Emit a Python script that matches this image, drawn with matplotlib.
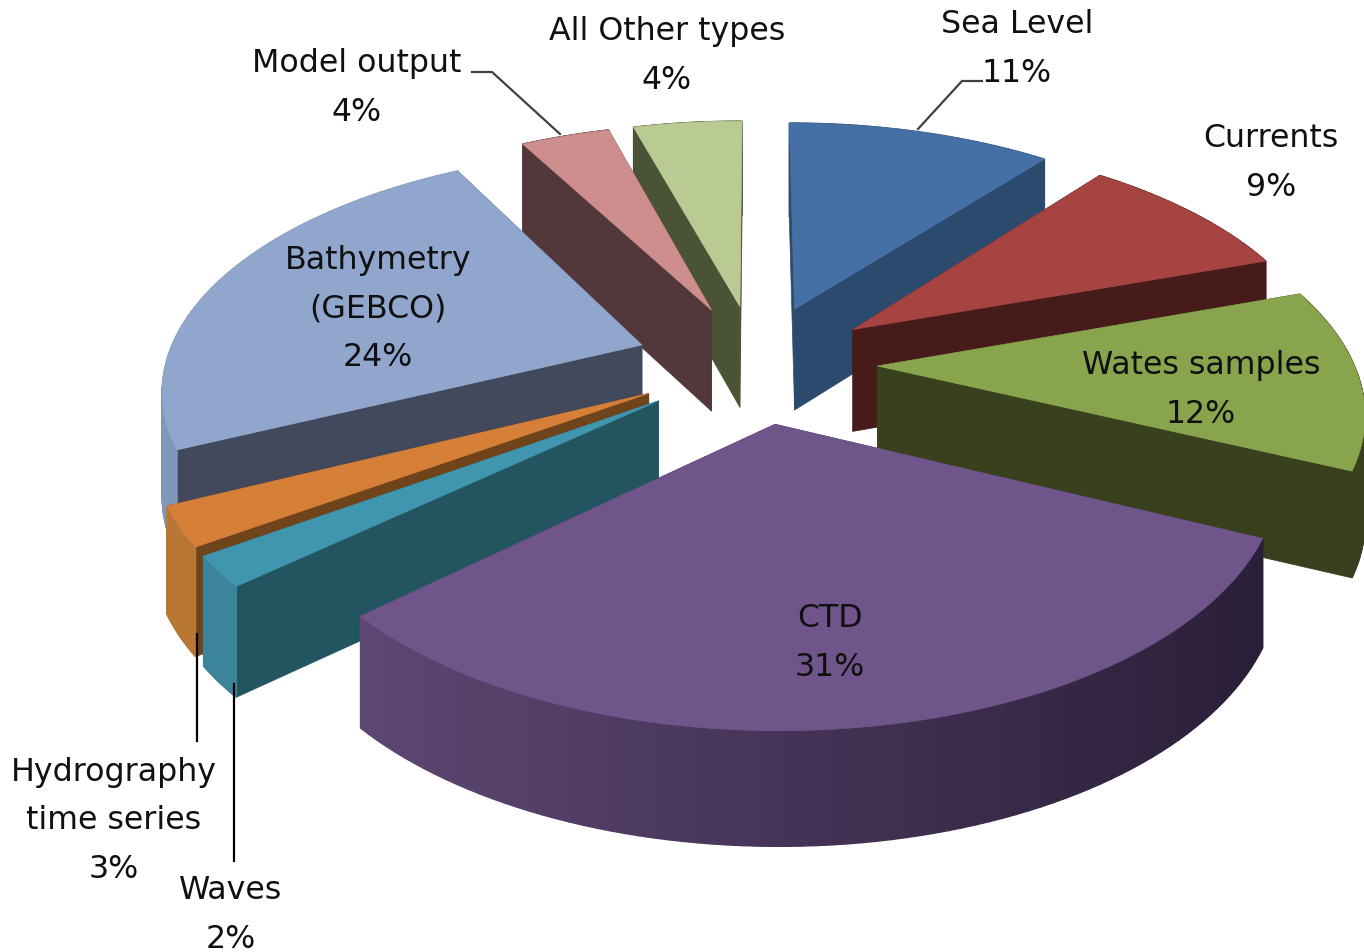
import numpy as np
import matplotlib
matplotlib.use('Agg')
import matplotlib.pyplot as plt
from matplotlib.patches import Polygon

categories = ['Sea Level', 'Currents', 'Wates samples', 'CTD', 'Waves',
              'Hydrography\ntime series', 'Bathymetry\n(GEBCO)', 'Model output', 'All Other types']
percents = [10.7, 9.0, 12.1, 31.4, 2.0, 2.6, 24.0, 3.6, 4.4]

top_colors = ['#4470A6', '#A64442', '#88A44C', '#70558B', '#4096AE', '#D67F38', '#90A6CD', '#CE8E8E', '#B9CB93']
cut_colors = ['#2C4A6E', '#461B1A', '#38401D', '#4A3860', '#235560', '#70441A', '#42495C', '#52383A', '#4B5337']
wall_left = ['#2C4A6E', '#461B1A', '#38401D', '#5E4774', '#3B849A', '#B87735', '#8196BB', '#52383A', '#4B5337']
wall_right = ['#2C4A6E', '#461B1A', '#38401D', '#2A1F38', '#3B849A', '#B87735', '#8196BB', '#52383A', '#4B5337']

# where the labels sit, in pixels
label_pos = [(1017, 49), (1271, 163), (1201, 390), (830, 643), (231, 915),
             (114, 821), (378, 309), (357, 88), (667, 56)]

# projection of the pie
cx, cy = 756, 364
rx, ry = 476, 233
persp = 0.165
explode = 0.255
depth = 103


def project(x, y):
    s = 1 / (1 + persp * y)
    return cx + rx * x * s, cy - ry * y * s, depth * np.sqrt(s)


fig = plt.figure(figsize=(13.64, 9.53), dpi=100)
ax = fig.add_axes([0, 0, 1, 1])
ax.set_xlim(0, 1364)
ax.set_ylim(953, 0)
ax.axis('off')

edges = np.cumsum([0] + percents) / sum(percents) * 2 * np.pi
slices = []
for i in range(len(percents)):
    mid = (edges[i] + edges[i + 1]) / 2
    slices.append((np.cos(mid), i, mid))

# back slices first so the front ones cover them
for _, i, mid in sorted(slices, reverse=True):
    ox, oy = explode * np.sin(mid), explode * np.cos(mid)
    ang = np.linspace(edges[i], edges[i + 1], 80)
    px, py, pd = project(ox + np.sin(ang), oy + np.cos(ang))
    tx, ty, td = project(ox, oy)

    # the two cut faces
    for k in [0, -1]:
        ax.add_patch(Polygon([(tx, ty), (px[k], py[k]), (px[k], py[k] + pd[k]), (tx, ty + td)],
                             fc=cut_colors[i], ec=cut_colors[i], lw=0.5, zorder=2))
    # outer wall, shaded along the arc
    c0 = np.array(matplotlib.colors.to_rgb(wall_left[i]))
    c1 = np.array(matplotlib.colors.to_rgb(wall_right[i]))
    for j in range(len(ang) - 1):
        t = (px[j] - px.min()) / max(px.max() - px.min(), 1)
        col = c0 + (c1 - c0) * t
        ax.add_patch(Polygon([(px[j], py[j]), (px[j + 1], py[j + 1]),
                              (px[j + 1], py[j + 1] + pd[j + 1]), (px[j], py[j] + pd[j])],
                             fc=col, ec=col, lw=1, zorder=2))
    # top
    ax.add_patch(Polygon(np.column_stack([np.r_[tx, px], np.r_[ty, py]]),
                         fc=top_colors[i], ec=top_colors[i], lw=0.5, zorder=2))

# leader lines
ax.plot([918, 962, 982], [130, 82, 82], color='#404040', lw=1.6, zorder=3)
ax.plot([560, 492, 472], [135, 73, 73], color='#404040', lw=1.6, zorder=3)
ax.plot([197, 197], [635, 742], color='black', lw=1.6, zorder=3)
ax.plot([234, 234], [685, 862], color='black', lw=1.6, zorder=3)

for name, pct, pos in zip(categories, percents, label_pos):
    ax.text(pos[0], pos[1], f'{name}\n{round(pct)}%', ha='center', va='center',
            fontsize=22.8, family='DejaVu Sans', linespacing=1.72, color='#101010', zorder=4)

fig.savefig('out.png', dpi=100)
